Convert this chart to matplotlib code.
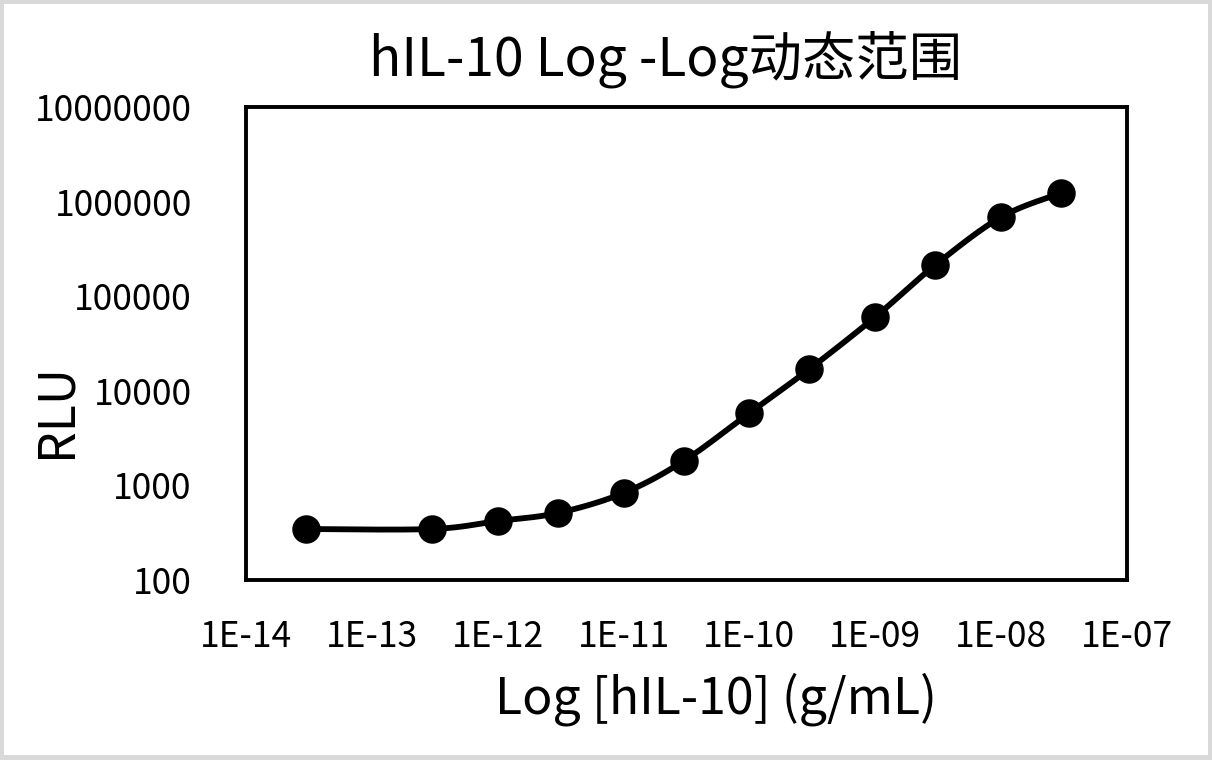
import numpy as np
import matplotlib.pyplot as plt
from matplotlib.patches import Rectangle

plt.rcParams['font.family'] = ['Noto Sans CJK SC', 'DejaVu Sans']

# concentration (g/mL) and signal (RLU)
conc = [3.0e-14, 3.0e-13, 1.0e-12, 3.0e-12, 1.0e-11, 3.0e-11,
        1.0e-10, 3.0e-10, 1.0e-9, 3.0e-9, 1.0e-8, 3.0e-8]
rlu = [346, 346, 420, 511, 831, 1810,
       5820, 17000, 60300, 213800, 687000, 1233000]

x_ticks = [1e-14, 1e-13, 1e-12, 1e-11, 1e-10, 1e-9, 1e-8, 1e-7]
x_labels = ['1E-14', '1E-13', '1E-12', '1E-11', '1E-10', '1E-09', '1E-08', '1E-07']
y_ticks = [1e2, 1e3, 1e4, 1e5, 1e6, 1e7]
y_labels = ['100', '1000', '10000', '100000', '1000000', '10000000']


def smooth(xs, ys, n=30):
    # catmull-rom like excel smoothed line, in log space
    lx = np.log10(xs)
    ly = np.log10(ys)
    px = np.concatenate([[lx[0]], lx, [lx[-1]]])
    py = np.concatenate([[ly[0]], ly, [ly[-1]]])
    outx, outy = [], []
    for i in range(1, len(px) - 2):
        p0, p1, p2, p3 = px[i-1], px[i], px[i+1], px[i+2]
        q0, q1, q2, q3 = py[i-1], py[i], py[i+1], py[i+2]
        c1x = p1 + (p2 - p0) / 6
        c2x = p2 - (p3 - p1) / 6
        c1y = q1 + (q2 - q0) / 6
        c2y = q2 - (q3 - q1) / 6
        t = np.linspace(0, 1, n)
        bx = (1-t)**3*p1 + 3*(1-t)**2*t*c1x + 3*(1-t)*t**2*c2x + t**3*p2
        by = (1-t)**3*q1 + 3*(1-t)**2*t*c1y + 3*(1-t)*t**2*c2y + t**3*q2
        outx.extend(bx)
        outy.extend(by)
    return 10**np.array(outx), 10**np.array(outy)


W, H = 1212, 760
fig = plt.figure(figsize=(W/100, H/100), dpi=100, facecolor='#d9d9d9')
fig.patches.append(Rectangle((4/W, 5/H), 1204/W, 751/H,
                             transform=fig.transFigure, facecolor='white',
                             edgecolor='none', zorder=-10))
ax = fig.add_axes([246/W, 1-580/H, (1127-246)/W, (580-107)/H])

sx, sy = smooth(conc, rlu)
ax.plot(sx, sy, color='black', lw=4.2, solid_capstyle='round')
ax.plot(conc, rlu, 'o', color='black', markersize=19.5)

ax.set_xscale('log')
ax.set_yscale('log')
ax.set_xlim(1e-14, 1e-7)
ax.set_ylim(1e2, 1e7)
ax.set_xticks(x_ticks)
ax.set_xticklabels(x_labels)
ax.set_yticks(y_ticks)
ax.set_yticklabels(y_labels)
ax.minorticks_off()
ax.tick_params(length=0, labelsize=25.5)
ax.tick_params(axis='x', pad=28)
ax.tick_params(axis='y', pad=39)
for s in ax.spines.values():
    s.set_linewidth(2.8)

# titles placed by hand, they are off-centre in the original
fig.text(666/W, 1-75/H, 'hIL-10 Log -Log动态范围', fontsize=38.4,
         ha='center', va='baseline')
fig.text(716/W, 1-713/H, 'Log [hIL-10] (g/mL)', fontsize=36,
         ha='center', va='baseline')
fig.text(83/W, 1-410/H, 'RLU', fontsize=36, rotation=90,
         ha='right', va='center')

plt.savefig('out.png', dpi=100, facecolor=fig.get_facecolor())
